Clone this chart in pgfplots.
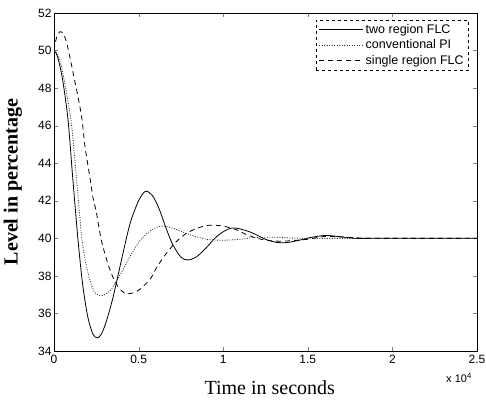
\documentclass[border=0pt]{standalone}
\usepackage{pgfplots}
\pgfplotsset{compat=1.18}
\usepackage{fontspec}
\setmainfont{Liberation Serif}
\setsansfont{Liberation Sans}
\begin{document}
\begin{tikzpicture}
\begin{axis}[
  width=423pt, height=338pt, scale only axis,
  xmin=0, xmax=2.5, ymin=34, ymax=52,
  xtick={0,0.5,1,1.5,2,2.5}, xticklabels={0,0.5,1,1.5,2,2.5},
  ytick={34,36,38,40,42,44,46,48,50,52},
  tick align=inside, major tick length=4pt,
  /pgf/number format/assume math mode=true,
  ticklabel style={font=\fontsize{12}{12}\selectfont\sffamily},
  xticklabel style={yshift=-1pt},
  yticklabel style={xshift=1pt},
  axis line style={line width=0.8pt},
  xlabel={Time in seconds},
  xlabel style={at={(axis description cs:0.51,-0.13)}, anchor=base, font=\fontsize{20}{20}\selectfont},
  ylabel={\textbf{Level in percentage}},
  ylabel style={at={(axis description cs:-0.097,0.5)}, anchor=center, font=\fontsize{20}{20}\selectfont},
  legend style={at={(axis description cs:0.981,0.979)}, anchor=north east,
    draw=black, dashed, line width=0.5pt, font=\fontsize{12.5}{14}\selectfont\sffamily,
    inner xsep=3pt, inner ysep=2pt, row sep=1pt},
  legend cell align=left,
  legend image code/.code={\path (0pt,0pt) -- (44pt,0pt); \draw[#1] (0pt,0pt) -- (30pt,0pt);},
]
\addplot[black, line width=0.8pt, solid, smooth, tension=0.5] coordinates {
(0,50) (0.02,49.7) (0.05,48.5) (0.083,46.3) (0.11,43.3) (0.142,39.9) (0.17,37.5)
(0.2,35.8) (0.23,34.9) (0.255,34.7) (0.28,34.9) (0.31,35.6) (0.35,36.9) (0.4,38.9)
(0.45,40.8) (0.5,42.0) (0.54,42.5) (0.58,42.3) (0.62,41.6) (0.66,40.6) (0.7,39.7)
(0.75,39.0) (0.79,38.85) (0.84,39.0) (0.9,39.5) (0.95,40.0) (1.0,40.35) (1.05,40.55)
(1.1,40.5) (1.17,40.3) (1.25,39.95) (1.32,39.78) (1.38,39.78) (1.45,39.9) (1.52,40.05)
(1.6,40.15) (1.68,40.1) (1.78,40.0) (1.9,40.0) (2.5,40.0)
};
\addlegendentry{two region FLC}
\addplot[black!80, line width=0.8pt, dash pattern=on 1pt off 1.5pt, smooth, tension=0.5] coordinates {
(0,50) (0.02,49.8) (0.05,48.9) (0.1,46.3) (0.13,43.5) (0.166,39.9) (0.2,38.2)
(0.235,37.2) (0.27,36.95) (0.3,37.0) (0.34,37.3) (0.4,38.2) (0.45,39.05) (0.51,39.9)
(0.57,40.4) (0.63,40.65) (0.7,40.55) (0.8,40.2) (0.9,39.95) (1.0,39.9) (1.1,39.95)
(1.2,40.05) (1.35,40.05) (1.5,40.0) (2.5,40.0)
};
\addlegendentry{conventional PI}
\addplot[black, line width=0.8pt, dash pattern=on 5pt off 4pt, smooth, tension=0.5] coordinates {
(0,50) (0.015,50.7) (0.035,51.0) (0.055,50.9) (0.075,50.4) (0.095,49.6) (0.12,48.5)
(0.145,47.4) (0.166,46.3) (0.183,44.9) (0.213,43.2) (0.23,42.2) (0.25,41.4) (0.28,39.9)
(0.32,38.6) (0.36,37.7) (0.4,37.2) (0.43,37.05) (0.47,37.1) (0.51,37.3) (0.57,37.85)
(0.61,38.5) (0.66,39.15) (0.72,39.8) (0.78,40.25) (0.85,40.55) (0.92,40.7) (1.0,40.65)
(1.08,40.45) (1.15,40.15) (1.25,39.9) (1.35,39.85) (1.5,39.95) (1.6,40.1) (1.75,40.05)
(1.9,40.0) (2.5,40.0)
};
\addlegendentry{single region FLC}
\coordinate (SW) at (axis description cs:0,0);
\coordinate (NE) at (axis description cs:1,1);
\end{axis}
\node[font=\fontsize{11}{11}\selectfont\sffamily, anchor=center] at ([shift={(405pt,-27pt)}]SW) {x 10\textsuperscript{4}};
\pgfresetboundingbox
\useasboundingbox ([shift={(-54pt,-50pt)}]SW) rectangle ([shift={(9pt,13pt)}]NE);
\end{tikzpicture}
\end{document}
